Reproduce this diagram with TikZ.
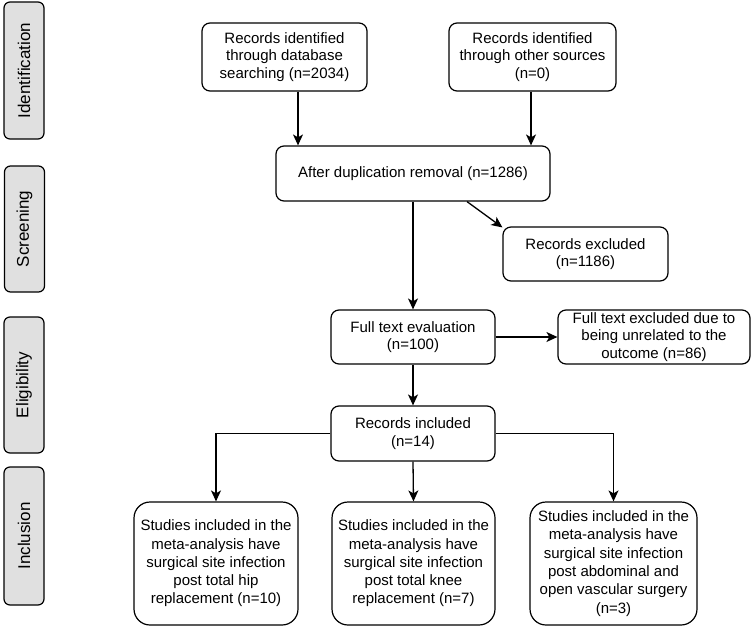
\documentclass[tikz,border=0pt]{standalone}
\usepackage{fontspec}
\setmainfont{Liberation Sans}
\usetikzlibrary{arrows.meta}
\definecolor{stagegray}{HTML}{E0E0E0}
\begin{document}
\begin{tikzpicture}[x=1pt,y=-1pt,
  box/.style={draw, rounded corners=8pt, line width=1.2pt, align=center,
    font=\fontsize{15}{17.5}\selectfont, inner sep=0pt},
  bigbox/.style={box, rounded corners=16pt, font=\fontsize{15}{18.3}\selectfont,
    minimum height=123pt},
  stage/.style={draw, rounded corners=6pt, fill=stagegray, line width=1.2pt,
    inner sep=0pt, font=\fontsize{17}{20}\selectfont, rotate=90, minimum height=40pt},
  arr/.style={-{Stealth[length=11pt,width=10pt,inset=3pt]}, line width=1.3pt}]
\useasboundingbox (0,0) rectangle (752,627);

% stage labels
\node[stage, minimum width=137pt] (s1) at (24,70.5) {Identification};
\node[stage, minimum width=126pt] (s2) at (24.5,229) {Screening};
\node[stage, minimum width=136pt] (s3) at (24,385) {Eligibility};
\node[stage, minimum width=138pt] (s4) at (24,536) {Inclusion};

% boxes
\node[box, minimum width=165pt, minimum height=68pt] (A) at (284.5,57)
  {Records identified\\through database\\searching (n=2034)};
\node[box, minimum width=167pt, minimum height=68pt] (B) at (532.5,57)
  {Records identified\\through other sources\\(n=0)};
\node[box, minimum width=274pt, minimum height=55pt] (D) at (413,173.5)
  {After duplication removal (n=1286)};
\node[box, minimum width=165pt, minimum height=54pt] (E) at (585.5,254)
  {Records excluded\\(n=1186)};
\node[box, minimum width=164pt, minimum height=54pt] (F) at (413,337)
  {Full text evaluation\\(n=100)};
\node[box, minimum width=192pt, minimum height=54pt] (G) at (654,337)
  {Full text excluded due to\\being unrelated to the\\outcome (n=86)};
\node[box, minimum width=164pt, minimum height=55pt] (R) at (413,433.5)
  {Records included\\(n=14)};
\node[bigbox, minimum width=164pt] (L1) at (216,563.5)
  {Studies included in the\\meta-analysis have\\surgical site infection\\post total hip\\replacement (n=10)};
\node[bigbox, minimum width=163pt] (L2) at (413.5,563.5)
  {Studies included in the\\meta-analysis have\\surgical site infection\\post total knee\\replacement (n=7)};
\node[bigbox, minimum width=167pt] (L3) at (613.5,563.5)
  {Studies included in the\\meta-analysis have\\surgical site infection\\post abdominal and\\open vascular surgery\\(n=3)};

% connectors
\coordinate (xa) at (298,0);
\coordinate (xb) at (531,0);
\coordinate (xd) at (467,0);
\draw[arr] (A.south -| xa) -- (D.north -| xa);
\draw[arr] (B.south -| xb) -- (D.north -| xb);
\draw[arr] (D.south -| xd) -- ([shift={(0pt,-1pt)}]E.north west);
\draw[arr] (D.south) -- (F.north);
\draw[arr] (F.east) -- (G.west);
\draw[arr] (F.south) -- (R.north);
\draw[arr] (R.west) -| (L1.north);
\draw[arr] (R.south) -- (L2.north);
\draw[arr] (R.east) -| (L3.north);
\end{tikzpicture}
\end{document}
